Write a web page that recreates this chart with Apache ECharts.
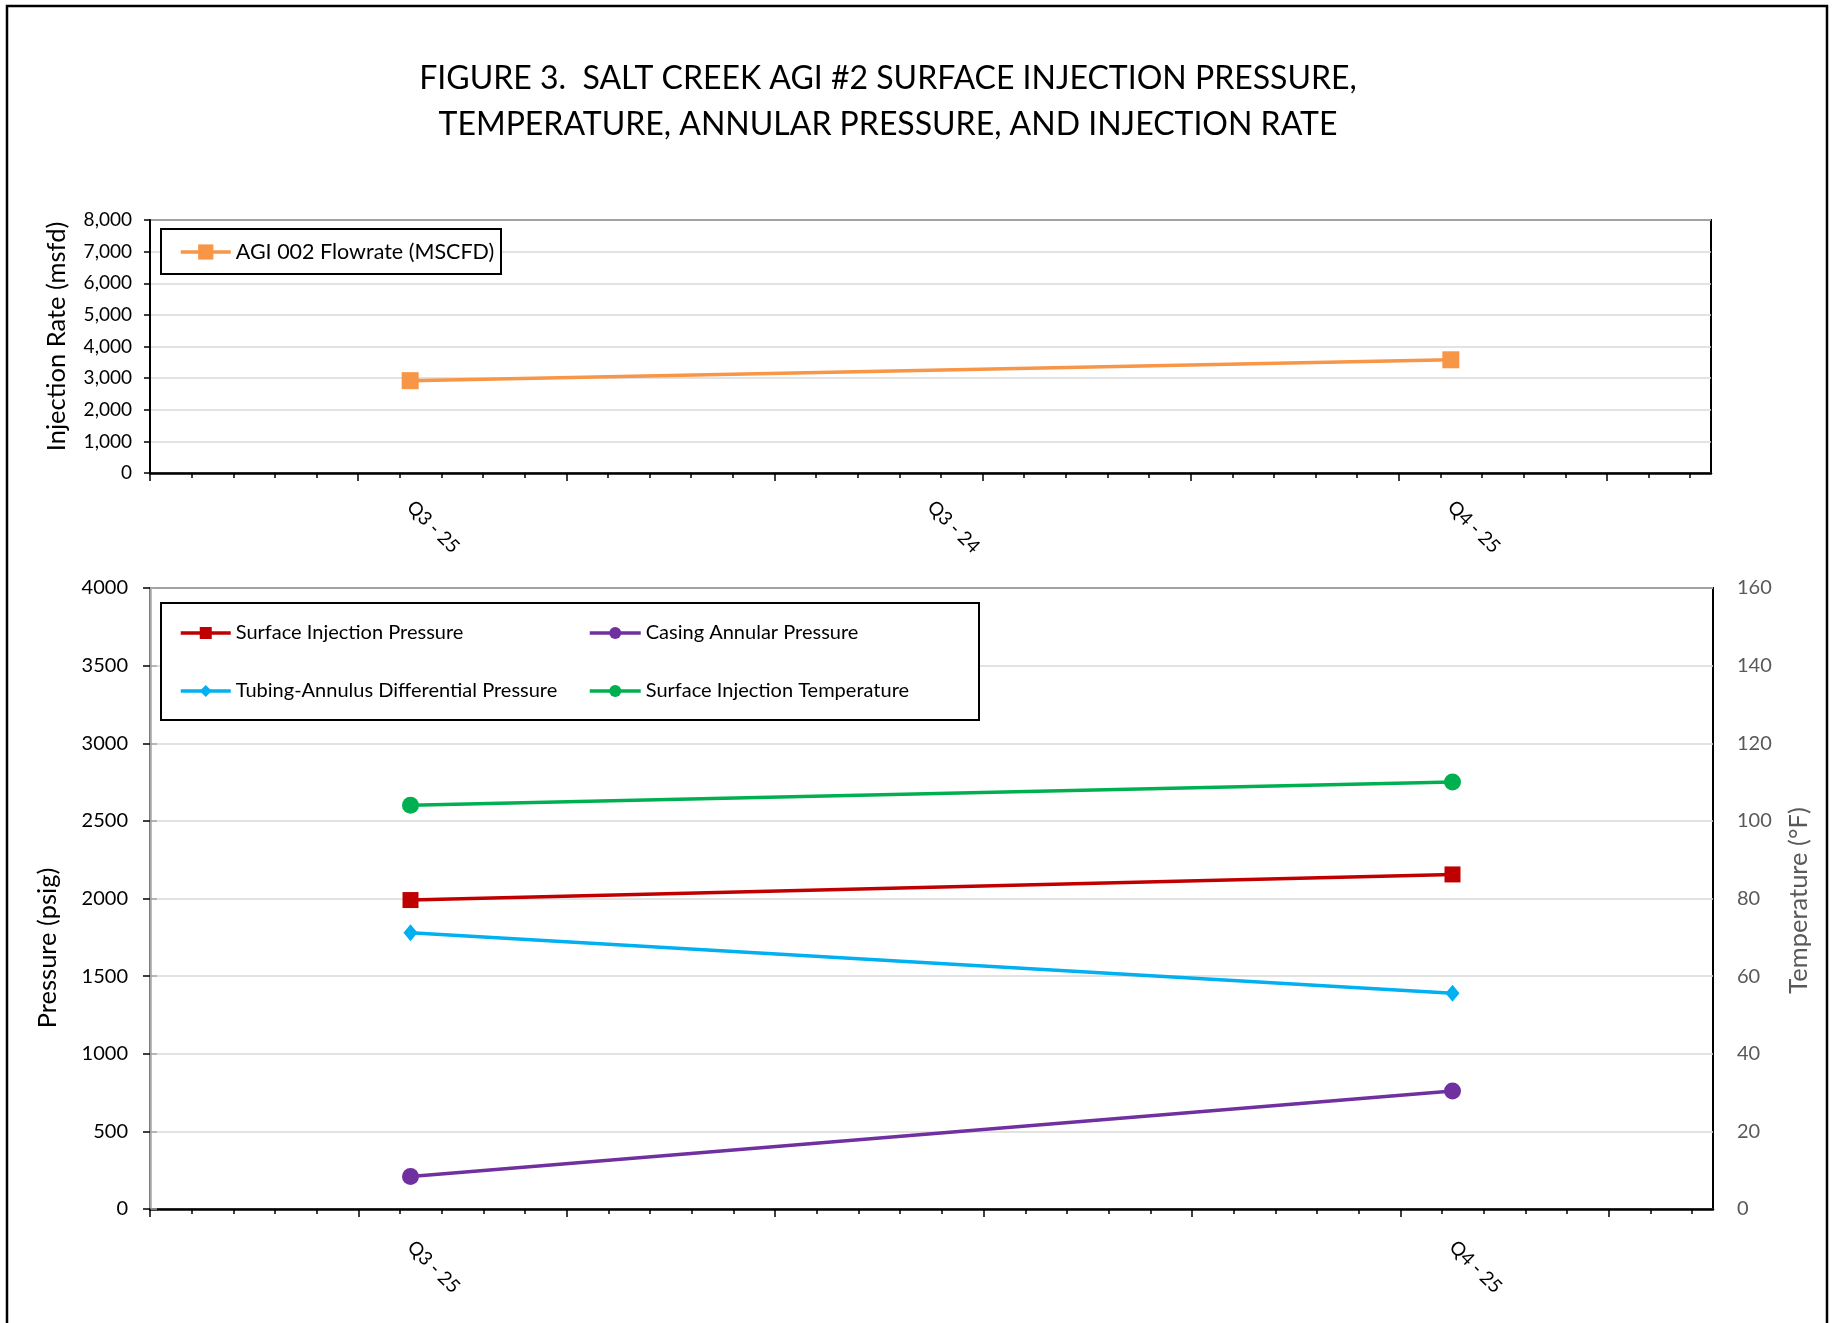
<!DOCTYPE html>
<html>
<head>
<meta charset="utf-8">
<script src="https://cdn.jsdelivr.net/npm/echarts@6/dist/echarts.min.js"></script>
<style>
html, body { margin: 0; padding: 0; background: #ffffff; }
#chart { width: 1834px; height: 1323px; }
</style>
</head>
<body>
<div id="chart"></div>
<script>
// ---------- data ----------
const titleLines = [
  'FIGURE 3.  SALT CREEK AGI #2 SURFACE INJECTION PRESSURE,',
  'TEMPERATURE, ANNULAR PRESSURE, AND INJECTION RATE'
];
const quarterCategories = ['Q3 - 25', 'Q3 - 24', 'Q4 - 25'];
const bottomHiddenLabels = ['Q3 - 24'];

const flowrateName = 'AGI 002 Flowrate (MSCFD)';
const flowrate = [2920, null, 3580];

const sipName = 'Surface Injection Pressure';
const surfaceInjectionPressure = [1990, null, 2155];
const capName = 'Casing Annular Pressure';
const casingAnnularPressure = [210, null, 760];
const tadName = 'Tubing-Annulus Differential Pressure';
const tubingAnnulusDiffPressure = [1780, null, 1390];
const sitName = 'Surface Injection Temperature';
const surfaceInjectionTemperature = [104, null, 110];

const rateAxisTicks = [0, 1000, 2000, 3000, 4000, 5000, 6000, 7000, 8000];
const pressureAxisTicks = [0, 500, 1000, 1500, 2000, 2500, 3000, 3500, 4000];
const temperatureAxisTicks = [0, 20, 40, 60, 80, 100, 120, 140, 160];

// date-axis style tick marks (minor every unit, major every 5 units)
const tickSpan = 37.5;
const minorTickPositions = Array.from({ length: 38 }, (_, i) => i);
const majorTickPositions = [0, 5, 10, 15, 20, 25, 30, 35];

// ---------- chart ----------
const FONT = 'Lato';
const LW = 3.5;
const chart = echarts.init(document.getElementById('chart'), null, { renderer: 'canvas' });

function tickAxis(gridIndex, values, len) {
  return {
    type: 'value', gridIndex: gridIndex, position: 'bottom',
    min: 0, max: tickSpan,
    axisLine: { show: false, onZero: false },
    axisTick: { show: true, length: len, customValues: values, lineStyle: { color: '#000', width: 1.5 } },
    axisLabel: { show: false },
    splitLine: { show: false }
  };
}

const catAxisCommon = {
  type: 'category', boundaryGap: true, position: 'bottom',
  axisLine: { show: true, onZero: false, lineStyle: { color: '#000', width: 2.5 } },
  axisTick: { show: false },
  splitLine: { show: false }
};

const legendText = (size, lh) => ({ fontFamily: FONT, fontSize: size, lineHeight: lh, color: '#000' });

const option = {
  animation: false,
  backgroundColor: '#ffffff',
  textStyle: { fontFamily: FONT },
  graphic: [
    { type: 'text', z: 10, silent: true, x: 888, y: 56,
      style: { text: titleLines.join('\n'), align: 'center', verticalAlign: 'top',
        font: 'normal 32px Lato', lineHeight: 46, fill: '#000' } },
    { type: 'rect', z: 50, silent: true, shape: { x: 7, y: 6, width: 1820, height: 1400 },
      style: { fill: 'none', stroke: '#000', lineWidth: 2.5 } },
    { type: 'rect', z: 3, silent: true, shape: { x: 161, y: 229, width: 340, height: 45 },
      style: { fill: '#fff', stroke: '#000', lineWidth: 2 } },
    { type: 'rect', z: 3, silent: true, shape: { x: 161, y: 603, width: 818, height: 117 },
      style: { fill: '#fff', stroke: '#000', lineWidth: 2 } }
  ],
  legend: [
    { data: [flowrateName], left: 179, top: 240, padding: 0, itemWidth: 50, itemHeight: 19,
      lineStyle: { width: LW }, textStyle: legendText(21.5, 24) },
    { data: [sipName, tadName], orient: 'vertical', left: 179, top: 622, padding: 0, itemGap: 36,
      itemWidth: 50, itemHeight: 15, lineStyle: { width: LW }, textStyle: legendText(20, 22) },
    { data: [capName, sitName], orient: 'vertical', left: 588, top: 622, padding: 0, itemGap: 36,
      itemWidth: 51, itemHeight: 15, lineStyle: { width: LW }, textStyle: legendText(20, 22) }
  ],
  grid: [
    { left: 150, top: 220, width: 1561, height: 253, show: true, borderColor: '#000', borderWidth: 2, backgroundColor: 'transparent' },
    { left: 150, top: 588, width: 1563, height: 621, show: true, borderColor: '#000', borderWidth: 2, backgroundColor: 'transparent' }
  ],
  xAxis: [
    Object.assign({}, catAxisCommon, {
      gridIndex: 0, data: quarterCategories,
      axisLabel: { rotate: -45, margin: 31, fontSize: 19, color: '#000', fontFamily: FONT, interval: 0 }
    }),
    tickAxis(0, minorTickPositions, 5),
    tickAxis(0, majorTickPositions, 8),
    Object.assign({}, catAxisCommon, {
      gridIndex: 1, data: quarterCategories,
      axisLabel: { rotate: -45, margin: 35, fontSize: 19, color: '#000', fontFamily: FONT,
        interval: (i, v) => bottomHiddenLabels.indexOf(v) < 0 }
    }),
    tickAxis(1, minorTickPositions, 5),
    tickAxis(1, majorTickPositions, 8)
  ],
  yAxis: [
    {
      type: 'value', gridIndex: 0, position: 'left',
      min: rateAxisTicks[0], max: rateAxisTicks[rateAxisTicks.length - 1], interval: rateAxisTicks[1] - rateAxisTicks[0],
      axisLine: { show: true, lineStyle: { color: '#000', width: 2 } },
      axisTick: { show: true, length: 6, lineStyle: { color: '#000', width: 1.5 } },
      axisLabel: { fontSize: 19, margin: 18, color: '#000', fontFamily: FONT,
        formatter: v => v.toLocaleString('en-US') },
      splitLine: { show: true, lineStyle: { color: '#D9D9D9', width: 1.5 } },
      name: 'Injection Rate (msfd)', nameLocation: 'middle', nameRotate: 90, nameGap: 80,
      nameTextStyle: { fontFamily: FONT, fontSize: 25.5, color: '#000', padding: [0, 0, 0, 20] }
    },
    {
      type: 'value', gridIndex: 1, position: 'left',
      min: pressureAxisTicks[0], max: pressureAxisTicks[pressureAxisTicks.length - 1], interval: pressureAxisTicks[1] - pressureAxisTicks[0],
      axisLine: { show: true, lineStyle: { color: '#000', width: 2 } },
      axisTick: { show: true, length: 7, lineStyle: { color: '#000', width: 1.5 } },
      axisLabel: { fontSize: 20, margin: 22, color: '#000', fontFamily: FONT, formatter: v => String(v) },
      splitLine: { show: true, lineStyle: { color: '#D9D9D9', width: 1.5 } },
      name: 'Pressure (psig)', nameLocation: 'middle', nameRotate: 90, nameGap: 89,
      nameTextStyle: { fontFamily: FONT, fontSize: 25.5, color: '#000', padding: [0, 99, 0, 0] }
    },
    {
      type: 'value', gridIndex: 1, position: 'right',
      min: temperatureAxisTicks[0], max: temperatureAxisTicks[temperatureAxisTicks.length - 1], interval: temperatureAxisTicks[1] - temperatureAxisTicks[0],
      axisLine: { show: true, lineStyle: { color: '#A6A6A6', width: 2.5 } },
      axisTick: { show: true, length: 7, lineStyle: { color: '#A6A6A6', width: 1.5 } },
      axisLabel: { fontSize: 20, margin: 24, color: '#595959', fontFamily: FONT, formatter: v => String(v) },
      splitLine: { show: false },
      name: 'Temperature (°F)', nameLocation: 'middle', nameRotate: 90, nameGap: 73,
      nameTextStyle: { fontFamily: FONT, fontSize: 25.5, color: '#595959', padding: [0, 4, 0, 0] }
    }
  ],
  series: [
    { name: flowrateName, type: 'line', xAxisIndex: 0, yAxisIndex: 0, data: flowrate, connectNulls: true,
      symbol: 'rect', symbolSize: 17, color: '#F79646', lineStyle: { width: LW, color: '#F79646' },
      itemStyle: { color: '#F79646' }, z: 5 },
    { name: sipName, type: 'line', xAxisIndex: 3, yAxisIndex: 1, data: surfaceInjectionPressure, connectNulls: true,
      symbol: 'rect', symbolSize: 16, color: '#C00000', lineStyle: { width: LW, color: '#C00000' },
      itemStyle: { color: '#C00000' }, z: 5 },
    { name: capName, type: 'line', xAxisIndex: 3, yAxisIndex: 1, data: casingAnnularPressure, connectNulls: true,
      symbol: 'circle', symbolSize: 17, color: '#7030A0', lineStyle: { width: LW, color: '#7030A0' },
      itemStyle: { color: '#7030A0' }, z: 5 },
    { name: tadName, type: 'line', xAxisIndex: 3, yAxisIndex: 1, data: tubingAnnulusDiffPressure, connectNulls: true,
      symbol: 'diamond', symbolSize: [14, 17], color: '#00B0F0', lineStyle: { width: LW, color: '#00B0F0' },
      itemStyle: { color: '#00B0F0' }, z: 5 },
    { name: sitName, type: 'line', xAxisIndex: 3, yAxisIndex: 2, data: surfaceInjectionTemperature, connectNulls: true,
      symbol: 'circle', symbolSize: 17, color: '#00B050', lineStyle: { width: LW, color: '#00B050' },
      itemStyle: { color: '#00B050' }, z: 5 }
  ]
};
chart.setOption(option);
</script>
</body>
</html>
